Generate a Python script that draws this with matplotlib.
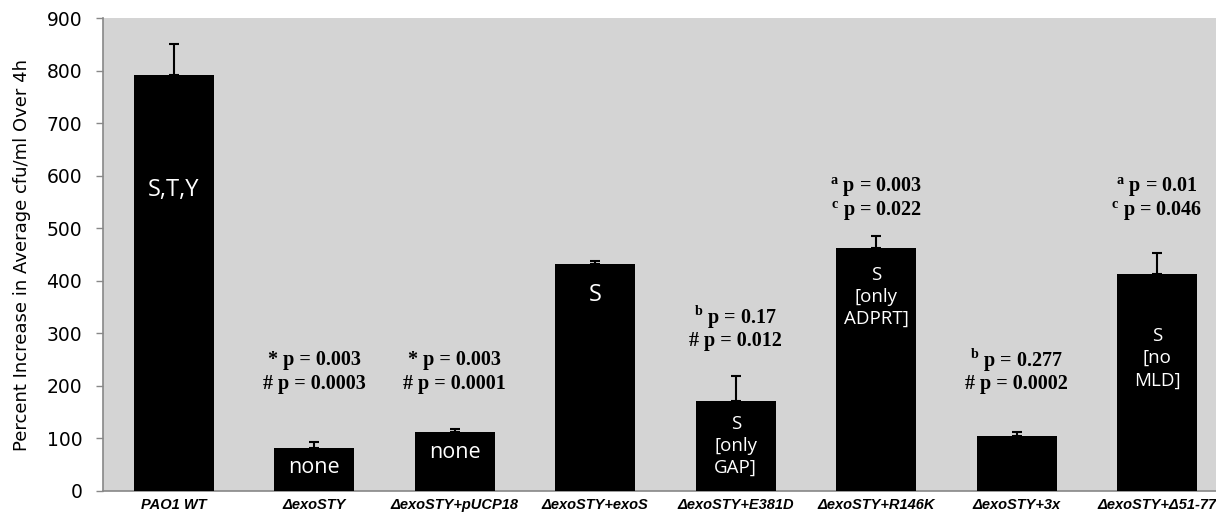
import numpy as np
import matplotlib.pyplot as plt

strains = ["PAO1 WT", "ΔexoSTY", "ΔexoSTY+pUCP18", "ΔexoSTY+exoS",
           "ΔexoSTY+E381D", "ΔexoSTY+R146K", "ΔexoSTY+3x", "ΔexoSTY+Δ51-77"]
increase = [793, 81, 113, 433, 172, 462, 105, 413]
err_up = [59, 12, 5, 5, 47, 23, 7, 40]

# effector content written inside each bar
inside = ["S,T,Y", "none", "none", "S", "S\n[only\nGAP]", "S\n[only\nADPRT]", "", "S\n[no\nMLD]"]
# layout for those labels: centre height and font size
inside_y = [573, 44, 74, 373, 86, 370, 0, 253]
inside_fs = [17, 15.5, 15.5, 17, 13.5, 13.5, 13.5, 13.5]

# p-value pairs above bars (upper line, lower line)
pvals = {
    1: (r"* p = 0.003", r"# p = 0.0003"),
    2: (r"* p = 0.003", r"# p = 0.0001"),
    4: (r"$^{\mathrm{b}}$ p = 0.17", r"# p = 0.012"),
    5: (r"$^{\mathrm{a}}$ p = 0.003", r"$^{\mathrm{c}}$ p = 0.022"),
    6: (r"$^{\mathrm{b}}$ p = 0.277", r"# p = 0.0002"),
    7: (r"$^{\mathrm{a}}$ p = 0.01", r"$^{\mathrm{c}}$ p = 0.046"),
}
pval_y = {1: (250, 203), 2: (250, 203), 4: (330, 285),
          5: (579, 533), 6: (249, 203), 7: (579, 533)}

plt.rcParams["mathtext.fontset"] = "custom"
plt.rcParams["mathtext.rm"] = "Liberation Serif:bold"

fig = plt.figure(figsize=(12.16, 5.13), dpi=100)
ax = fig.add_axes([0.0847, 0.0429, 0.9153, 0.9211])
ax.set_facecolor("#d4d4d4")

x = np.arange(len(strains))
ax.bar(x, increase, width=0.57, color="black", zorder=3)
ax.errorbar(x, increase, yerr=[np.zeros(len(x)), err_up], fmt="none",
            ecolor="black", elinewidth=1.5, capsize=3.6, capthick=1.5, zorder=2)

for i, lab in enumerate(inside):
    if lab:
        ax.text(x[i], inside_y[i], lab, color="white", ha="center", va="center",
                fontsize=inside_fs[i], family="Open Sans", linespacing=1.3, zorder=4)

for i, (top, bot) in pvals.items():
    for s, yy in zip((top, bot), pval_y[i]):
        ax.text(x[i], yy, s, ha="center", va="center", fontsize=14.5,
                family="Liberation Serif", fontweight="bold", zorder=4)

ax.set_xlim(-0.505, 7.42)
ax.set_ylim(0, 900)
ax.set_yticks(np.arange(0, 901, 100))
ax.tick_params(axis="y", labelsize=13.5, length=5, pad=10, color="#888888", width=1)
ax.tick_params(axis="x", length=0, pad=5)
ax.set_xticks(x)
ax.set_xticklabels(strains, fontsize=10.5, family="Liberation Sans",
                   fontweight="bold", style="italic")
ax.set_ylabel("Percent Increase in Average cfu/ml Over 4h", fontsize=13, labelpad=11)

for side in ("top", "right"):
    ax.spines[side].set_visible(False)
for side in ("left", "bottom"):
    ax.spines[side].set_color("#888888")
    ax.spines[side].set_linewidth(1.2)

fig.savefig("out.png", dpi=100)
